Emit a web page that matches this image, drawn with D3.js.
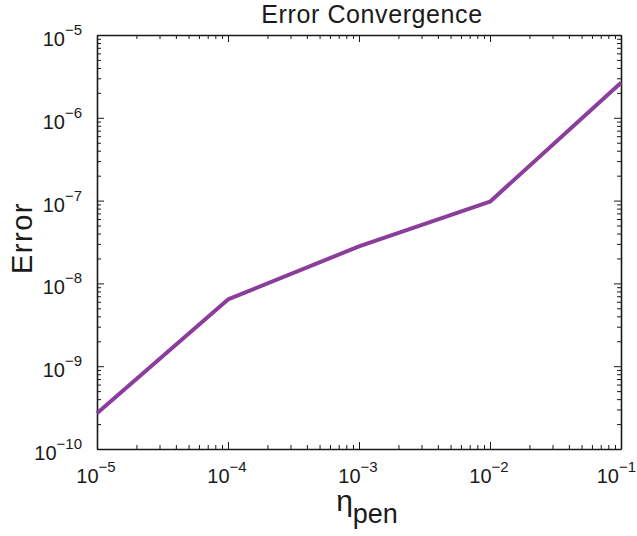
<!DOCTYPE html>
<html>
<head>
<meta charset="utf-8">
<script src="https://cdn.jsdelivr.net/npm/d3@7"></script>
<style>
  body { margin: 0; background: #fff; }
  text { font-family: "Liberation Sans", Arial, Helvetica, sans-serif; fill: #1a1a1a; }
</style>
</head>
<body>
<div id="chart"></div>
<script>
// data
let eta_pen = [1e-5, 1e-4, 1e-3, 1e-2, 1e-1];
let error_vals = [2.7e-10, 6.4e-9, 2.8e-8, 9.7e-8, 2.65e-6];
let x_exponents = [-5, -4, -3, -2, -1];
let y_exponents = [-10, -9, -8, -7, -6, -5];

let width = 637, height = 536;
let margin = {left: 97, right: 16, top: 35, bottom: 87};
let plot_w = width - margin.left - margin.right;
let plot_h = height - margin.top - margin.bottom;

let svg = d3.select("#chart")
    .append("svg")
    .attr("width", width)
    .attr("height", height);

let g = svg.append("g")
    .attr("transform", `translate(${margin.left}, ${margin.top})`);

let x = d3.scaleLog()
    .domain([1e-5, 1e-1])
    .range([0, plot_w]);

let y = d3.scaleLog()
    .domain([1e-10, 1e-5])
    .range([plot_h, 0]);

// minor + major tick positions
function logTicks(lo, hi) {
    let t = [];
    for (let e = lo; e < hi; e++) {
        for (let m = 1; m < 10; m++) t.push(m * Math.pow(10, e));
    }
    t.push(Math.pow(10, hi));
    return t;
}
let xt = logTicks(-5, -1);
let yt = logTicks(-10, -5);
let isMajor = v => Math.abs(Math.log10(v) - Math.round(Math.log10(v))) < 1e-9;

function styleAxis(sel) {
    sel.select(".domain").attr("stroke", "#1a1a1a").attr("stroke-width", 1.6);
    sel.selectAll(".tick line").attr("stroke", "#1a1a1a").attr("stroke-width", 1);
    sel.selectAll(".tick text").remove();
}

function tickLen(v) { return isMajor(v) ? 7 : 4; }

let axes = [
    {axis: d3.axisBottom(x).tickValues(xt).tickSizeOuter(0), tr: `translate(0, ${plot_h})`},
    {axis: d3.axisTop(x).tickValues(xt).tickSizeOuter(0), tr: `translate(0, 0)`},
    {axis: d3.axisLeft(y).tickValues(yt).tickSizeOuter(0), tr: `translate(0, 0)`},
    {axis: d3.axisRight(y).tickValues(yt).tickSizeOuter(0), tr: `translate(${plot_w}, 0)`}
];

axes.forEach(function(a, i) {
    let ax = g.append("g").attr("transform", a.tr).call(a.axis.tickSize(0));
    styleAxis(ax);
    ax.selectAll(".tick line").each(function(d) {
        let L = tickLen(d);
        let line = d3.select(this);
        if (i === 0) line.attr("y2", -L);
        if (i === 1) line.attr("y2", L);
        if (i === 2) line.attr("x2", L);
        if (i === 3) line.attr("x2", -L);
    });
});

// line
let line = d3.line()
    .x((d, i) => x(eta_pen[i]))
    .y(d => y(d));

g.append("path")
    .datum(error_vals)
    .attr("fill", "none")
    .attr("stroke", "#8b3d9c")
    .attr("stroke-width", 4)
    .attr("stroke-linejoin", "round")
    .attr("d", line);

// tick labels with superscripts
function powerLabel(parent, e, px, py, anchor) {
    let t = parent.append("text")
        .attr("x", px)
        .attr("y", py)
        .style("font-size", "20px")
        .style("text-anchor", anchor);
    t.append("tspan").text("10");
    t.append("tspan")
        .attr("dy", -11)
        .style("font-size", "15px")
        .text("\u2212" + Math.abs(e));
    return t;
}

x_exponents.forEach(function(e, i) {
    let last = i === x_exponents.length - 1;
    // last label is pushed in so it stays inside the window
    powerLabel(g, e, last ? plot_w + 15 : x(Math.pow(10, e)) - 1, plot_h + 34, last ? "end" : "middle");
});

y_exponents.forEach(function(e) {
    powerLabel(g, e, -15, y(Math.pow(10, e)) + 11, "end");
});

// title
svg.append("text")
    .attr("x", 372)
    .attr("y", 23)
    .style("text-anchor", "middle")
    .style("font-size", "25px")
    .style("letter-spacing", "0.6px")
    .text("Error Convergence");

// y label
svg.append("text")
    .attr("transform", `translate(32, 238) rotate(-90)`)
    .style("text-anchor", "middle")
    .style("font-size", "29px")
    .style("letter-spacing", "1.5px")
    .text("Error");

// x label
let xl = svg.append("text")
    .attr("x", 367)
    .attr("y", 511)
    .style("text-anchor", "middle")
    .style("font-size", "30px");
xl.append("tspan").text("\u03b7");
xl.append("tspan")
    .attr("dy", 12)
    .style("font-size", "27px")
    .text("pen");
</script>
</body>
</html>
